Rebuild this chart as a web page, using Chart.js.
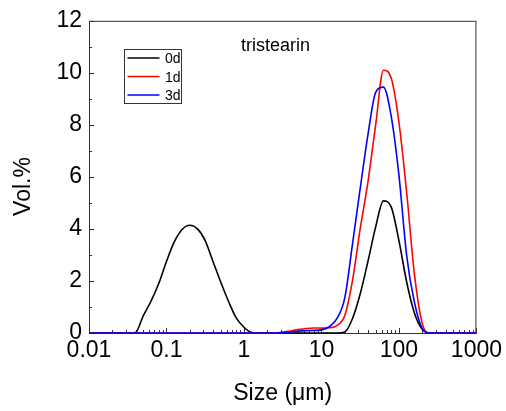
<!DOCTYPE html>
<html>
<head>
<meta charset="utf-8">
<script src="https://cdn.jsdelivr.net/npm/chart.js@4/dist/chart.umd.min.js"></script>
<style>
  body { margin: 0; background: #fff; }
  #wrap { width: 506px; height: 411px; }
</style>
</head>
<body>
<div id="wrap"><canvas id="psd" width="506" height="411"></canvas></div>
<script>
// particle size grid (um), log spaced
const sizes = [0.01, 0.0126, 0.0158, 0.02, 0.0251, 0.0316, 0.0398, 0.0501, 0.0631, 0.0794,
  0.1, 0.126, 0.158, 0.2, 0.251, 0.316, 0.398, 0.501, 0.631, 0.794,
  1, 1.26, 1.58, 2, 2.51, 3.16, 3.98, 5.01, 6.31, 7.94,
  10, 12.6, 15.8, 20, 25.1, 31.6, 39.8, 50.1, 63.1, 79.4,
  100, 126, 158, 200, 251, 316, 398, 501, 631, 794, 1000];

const vol0d = [0, 0, 0, 0, 0, 0, 0.02, 0.66, 1.22, 1.9,
  2.75, 3.5, 3.97, 4.14, 4.0, 3.55, 2.75, 1.96, 1.22, 0.58,
  0.22, 0.02, 0, 0, 0, 0, 0, 0, 0, 0,
  0, 0, 0, 0.04, 0.55, 1.5, 2.75, 4.08, 5.08, 4.85,
  3.55, 1.95, 0.78, 0.14, 0, 0, 0, 0, 0, 0, 0];

const vol1d = [0, 0, 0, 0, 0, 0, 0, 0, 0, 0,
  0, 0, 0, 0, 0, 0, 0, 0, 0, 0,
  0, 0, 0, 0, 0, 0.03, 0.08, 0.13, 0.17, 0.19,
  0.19, 0.2, 0.28, 0.67, 2.0, 4.0, 5.8, 8.0, 10.1, 9.8,
  8.1, 5.38, 2.29, 0.37, 0, 0, 0, 0, 0, 0, 0];

const vol3d = [0, 0, 0, 0, 0, 0, 0, 0, 0, 0,
  0, 0, 0, 0, 0, 0, 0, 0, 0, 0,
  0, 0, 0, 0, 0, 0.02, 0.04, 0.07, 0.09, 0.1,
  0.12, 0.24, 0.55, 1.35, 3.4, 5.55, 7.62, 9.25, 9.45, 8.34,
  6.07, 2.96, 1.2, 0.17, 0, 0, 0, 0, 0, 0, 0];

const seriesNames = ['0d', '1d', '3d'];
const seriesColors = ['#000000', '#ff0000', '#0000ff'];
const xTicks = [0.01, 0.1, 1, 10, 100, 1000];
const xTickLabels = ['0.01', '0.1', '1', '10', '100', '1000'];
const yTicks = [0, 2, 4, 6, 8, 10, 12];

const FONT = '"Liberation Sans", Arial, sans-serif';

function pts(vals) {
  return sizes.map((s, i) => ({ x: s, y: vals[i] }));
}

// frame, inward ticks, titles, legend and annotation
const decor = {
  id: 'decor',
  beforeDatasetsDraw(chart) {
    const { ctx, chartArea: a, scales } = chart;
    const xs = scales.x, ys = scales.y;
    ctx.save();
    ctx.strokeStyle = '#333';
    ctx.lineWidth = 1;
    ctx.strokeRect(a.left + 0.5, a.top + 0.5, a.right - a.left - 1, a.bottom - a.top);
    ctx.beginPath();
    // x ticks (major + minor 2..9)
    xTicks.forEach((d, i) => {
      const px = Math.round(xs.getPixelForValue(d)) + 0.5;
      ctx.moveTo(px, a.bottom); ctx.lineTo(px, a.bottom - 5);
      if (i < xTicks.length - 1) {
        for (let m = 2; m <= 9; m++) {
          const mx = Math.round(xs.getPixelForValue(d * m)) + 0.5;
          ctx.moveTo(mx, a.bottom); ctx.lineTo(mx, a.bottom - 3);
        }
      }
    });
    // y ticks (major + minor at odd values)
    yTicks.forEach((v, i) => {
      const py = Math.round(ys.getPixelForValue(v)) + 0.5;
      ctx.moveTo(a.left, py); ctx.lineTo(a.left + 5, py);
      if (i < yTicks.length - 1) {
        const my = Math.round(ys.getPixelForValue(v + 1)) + 0.5;
        ctx.moveTo(a.left, my); ctx.lineTo(a.left + 3, my);
      }
    });
    ctx.stroke();
    ctx.restore();
  },
  afterDraw(chart) {
    const { ctx, chartArea: a } = chart;
    ctx.save();
    ctx.fillStyle = '#000';
    // axis titles
    ctx.font = '23px ' + FONT;
    ctx.textAlign = 'center';
    ctx.textBaseline = 'alphabetic';
    ctx.fillText('Size (\u03bcm)', (a.left + a.right) / 2, 400);
    ctx.translate(30, 186.5);
    ctx.rotate(-Math.PI / 2);
    ctx.fillText('Vol.%', 0, 0);
    ctx.setTransform(1, 0, 0, 1, 0, 0);
    // annotation
    ctx.font = '18px ' + FONT;
    ctx.textAlign = 'left';
    ctx.fillText('tristearin', 241, 50.5);
    // legend
    ctx.strokeStyle = '#333';
    ctx.lineWidth = 1;
    ctx.strokeRect(124.5, 49.5, 57, 54);
    ctx.font = '14px ' + FONT;
    seriesNames.forEach((name, i) => {
      const ly = 58 + i * 18.5;
      ctx.strokeStyle = seriesColors[i];
      ctx.lineWidth = 1.6;
      ctx.beginPath();
      ctx.moveTo(127.5, ly); ctx.lineTo(159.5, ly);
      ctx.stroke();
      ctx.fillStyle = '#000';
      ctx.fillText(name, 165, ly + 5.3);
    });
    ctx.restore();
  }
};

new Chart(document.getElementById('psd'), {
  type: 'line',
  data: {
    datasets: [vol0d, vol1d, vol3d].map((v, i) => ({
      label: seriesNames[i],
      data: pts(v),
      borderColor: seriesColors[i],
      backgroundColor: seriesColors[i],
      borderWidth: 1.6,
      pointRadius: 0,
      cubicInterpolationMode: 'monotone',
      fill: false,
      clip: 4,
      order: 3 - i
    }))
  },
  options: {
    responsive: false,
    animation: false,
    layout: { padding: { left: 0, right: 28, top: 20, bottom: 0 } },
    plugins: { legend: { display: false }, tooltip: { enabled: false } },
    scales: {
      x: {
        type: 'logarithmic',
        min: 0.01,
        max: 1000,
        grid: { display: false, drawTicks: false },
        border: { display: false },
        afterBuildTicks: (s) => { s.ticks = xTicks.map(v => ({ value: v })); },
        afterFit: (s) => { s.height = 78; },
        ticks: {
          autoSkip: false,
          maxRotation: 0,
          padding: 4,
          color: '#000',
          font: { family: FONT, size: 23 },
          callback: (v) => xTickLabels[xTicks.indexOf(v)]
        }
      },
      y: {
        min: 0,
        max: 12,
        grid: { display: false, drawTicks: false },
        border: { display: false },
        afterBuildTicks: (s) => { s.ticks = yTicks.map(v => ({ value: v })); },
        afterFit: (s) => { s.width = 89; },
        ticks: {
          padding: 7,
          color: '#000',
          font: { family: FONT, size: 23 }
        }
      }
    }
  },
  plugins: [decor]
});
</script>
</body>
</html>
